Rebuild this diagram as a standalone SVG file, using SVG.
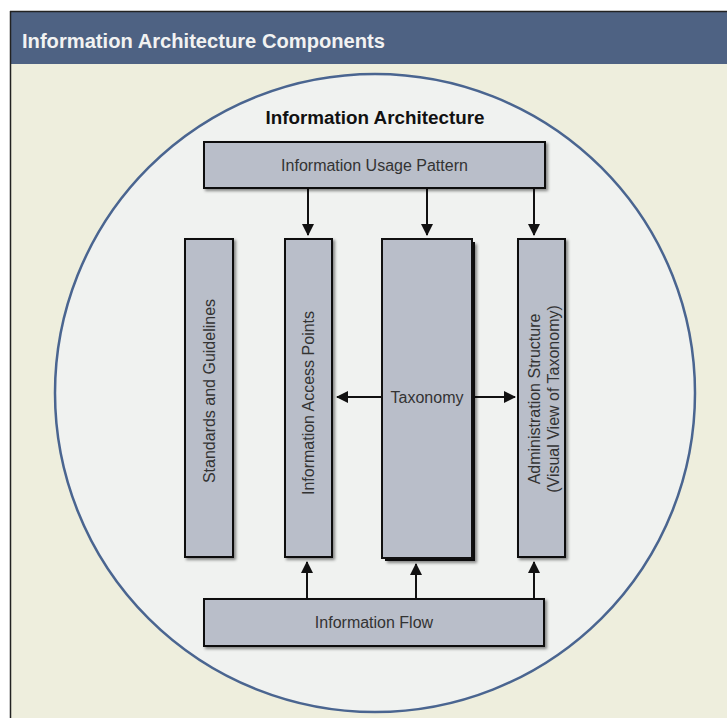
<svg xmlns="http://www.w3.org/2000/svg" width="727" height="718" viewBox="0 0 727 718">
<defs>
<style>
.box{fill:#b9bec9;stroke:#111;stroke-width:2}
.lbl{font-family:"Liberation Sans",Arial,sans-serif;font-size:16px;fill:#333;text-anchor:middle;dominant-baseline:central}
.conn{stroke:#111;stroke-width:2;fill:none}
</style>
<filter id="sh" x="-20%" y="-20%" width="140%" height="140%">
<feDropShadow dx="2" dy="2" stdDeviation="1.6" flood-color="#000" flood-opacity="0.45"/>
</filter>
<marker id="ah" viewBox="0 0 12 12" refX="11" refY="6" markerWidth="12" markerHeight="12" markerUnits="userSpaceOnUse" orient="auto">
<path d="M0,0 L12,6 L0,12 Z" fill="#111"/>
</marker>
</defs>
<rect x="0" y="0" width="727" height="718" fill="#ffffff"/>
<rect x="10" y="11" width="717" height="707" fill="#eeeedd"/>
<rect x="10" y="11" width="717" height="53" fill="#4e6283"/>
<line x1="10.5" y1="11" x2="10.5" y2="718" stroke="#222" stroke-width="1.5"/>
<line x1="10" y1="11.5" x2="727" y2="11.5" stroke="#222" stroke-width="1.5"/>
<text x="22" y="48" font-family="'Liberation Sans',Arial,sans-serif" font-size="20" font-weight="bold" fill="#f2f2f2" textLength="363" lengthAdjust="spacingAndGlyphs">Information Architecture Components</text>
<g id="circle">
<ellipse cx="375" cy="393" rx="320" ry="319" fill="#f0f2f0" stroke="#4a6590" stroke-width="2.5"/>
<text x="375" y="124" font-family="'Liberation Sans',Arial,sans-serif" font-size="17.5" font-weight="bold" fill="#111" text-anchor="middle" textLength="219" lengthAdjust="spacingAndGlyphs">Information Architecture</text>
</g>
<g id="connectors">
<line class="conn" x1="308" y1="188" x2="308" y2="235" marker-end="url(#ah)"/>
<line class="conn" x1="427" y1="188" x2="427" y2="235" marker-end="url(#ah)"/>
<line class="conn" x1="534" y1="188" x2="534" y2="235" marker-end="url(#ah)"/>
<line class="conn" x1="307" y1="599" x2="307" y2="562" marker-end="url(#ah)"/>
<line class="conn" x1="416" y1="599" x2="416" y2="564" marker-end="url(#ah)"/>
<line class="conn" x1="534" y1="599" x2="534" y2="562" marker-end="url(#ah)"/>
<line class="conn" x1="382" y1="397" x2="337" y2="397" marker-end="url(#ah)"/>
<line class="conn" x1="475" y1="397" x2="515" y2="397" marker-end="url(#ah)"/>
</g>
<g id="usage">
<rect class="box" x="204" y="142" width="341" height="46" filter="url(#sh)"/>
<text class="lbl" x="374.5" y="165">Information Usage Pattern</text>
</g>
<g id="standards">
<rect class="box" x="185" y="239" width="48" height="318" filter="url(#sh)"/>
<text class="lbl" transform="translate(209,391) rotate(-90)">Standards and Guidelines</text>
</g>
<g id="access">
<rect class="box" x="285" y="239" width="47" height="318" filter="url(#sh)"/>
<text class="lbl" transform="translate(308.5,403) rotate(-90)">Information Access Points</text>
</g>
<g id="taxonomy">
<rect x="385" y="242" width="90" height="319" fill="#111" filter="url(#sh)"/>
<rect class="box" x="382" y="239" width="90" height="319"/>
<text class="lbl" x="427" y="397">Taxonomy</text>
</g>
<g id="admin">
<rect class="box" x="518" y="239" width="47" height="318" filter="url(#sh)"/>
<text class="lbl" transform="translate(534.5,399) rotate(-90)">Administration Structure</text>
<text class="lbl" transform="translate(553.5,399) rotate(-90)">(Visual View of Taxonomy)</text>
</g>
<g id="flow">
<rect class="box" x="204" y="599" width="340" height="47" filter="url(#sh)"/>
<text class="lbl" x="374" y="622">Information Flow</text>
</g>
</svg>
